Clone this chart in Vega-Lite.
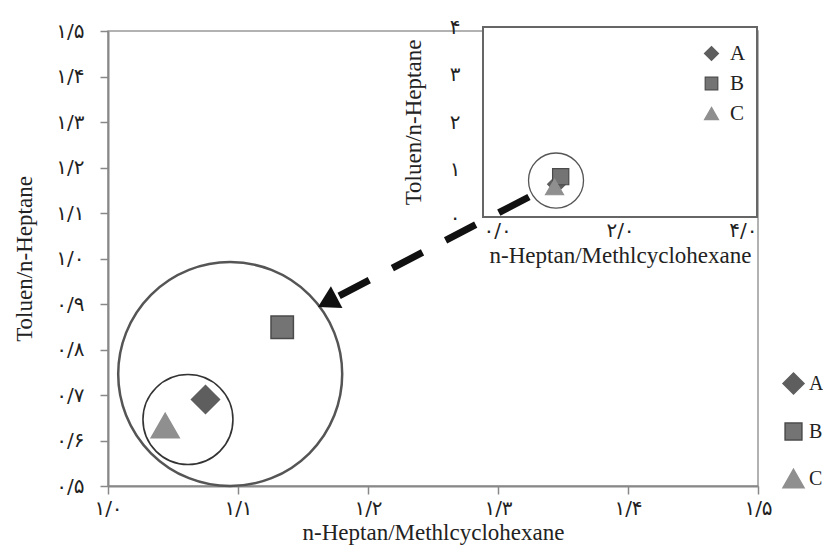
{
  "$schema": "https://vega.github.io/schema/vega-lite/v6.json",
  "width": 650,
  "height": 455,
  "autosize": {"type": "none"},
  "padding": {"left": 108, "top": 31, "right": 65, "bottom": 59},
  "background": "white",
  "config": {
    "view": {"stroke": "#999", "strokeWidth": 1.5},
    "axis": {"grid": false}
  },
  "datasets": {
    "pts": [
      {"sample": "A", "x": 1.075, "y": 0.690},
      {"sample": "B", "x": 1.134, "y": 0.849},
      {"sample": "C", "x": 1.044, "y": 0.633}
    ],
    "bigCircle": [{"x": 1.094, "y": 0.746}],
    "smallCircle": [{"x": 1.0615, "y": 0.646}],
    "insetCircle": [{"x": 1.066, "y": 0.768}],
    "frame": [{"x0": 0, "x1": 4, "y0": 0, "y1": 4}],
    "arrowLine": [
      {"x": 1.3238, "y": 1.1352, "seq": 1},
      {"x": 1.1731, "y": 0.911, "seq": 2}
    ],
    "arrowHead": [{"x": 1.1687, "y": 0.9042}]
  },
  "layer": [
    {
      "layer": [
        {
          "data": {"name": "bigCircle"},
          "mark": {"type": "point", "shape": "circle", "size": 50176, "filled": false, "stroke": "#555", "strokeWidth": 2.5, "opacity": 1},
          "encoding": {
            "x": {"field": "x", "type": "quantitative", "scale": {"domain": [1, 1.5], "nice": false, "zero": false},
              "axis": {
                "title": "n-Heptan/Methlcyclohexane",
                "values": [1, 1.1, 1.2, 1.3, 1.4, 1.5],
                "labelExpr": "substring('۰۱۲۳۴۵۶۷۸۹', floor(datum.value), floor(datum.value)+1) + '/' + substring('۰۱۲۳۴۵۶۷۸۹', round(datum.value*10)%10, round(datum.value*10)%10+1)",
                "labelFont": "DejaVu Sans", "labelFontSize": 20, "labelColor": "#222",
                "domainColor": "#888", "domainWidth": 2, "tickColor": "#888", "tickWidth": 1.5, "tickSize": 8,
                "labelPadding": 4, "labelOverlap": false, "labelFlush": false,
                "titleFont": "Liberation Serif", "titleFontSize": 23, "titleFontWeight": "normal", "titleColor": "#222", "titlePadding": 3
              }
            },
            "y": {"field": "y", "type": "quantitative", "scale": {"domain": [0.5, 1.5], "nice": false, "zero": false},
              "axis": {
                "title": "Toluen/n-Heptane",
                "values": [0.5, 0.6, 0.7, 0.8, 0.9, 1.0, 1.1, 1.2, 1.3, 1.4, 1.5],
                "labelExpr": "substring('۰۱۲۳۴۵۶۷۸۹', floor(datum.value), floor(datum.value)+1) + '/' + substring('۰۱۲۳۴۵۶۷۸۹', round(datum.value*10)%10, round(datum.value*10)%10+1)",
                "labelFont": "DejaVu Sans", "labelFontSize": 20, "labelColor": "#222",
                "domainColor": "#888", "domainWidth": 2, "tickColor": "#888", "tickWidth": 1.5, "tickSize": 8,
                "labelPadding": 16, "labelOverlap": false, "labelFlush": false,
                "titleFont": "Liberation Serif", "titleFontSize": 23, "titleFontWeight": "normal", "titleColor": "#222", "titlePadding": 19
              }
            }
          }
        },
        {
          "data": {"name": "smallCircle"},
          "mark": {"type": "point", "shape": "circle", "size": 8100, "filled": false, "stroke": "#333", "strokeWidth": 1.6, "opacity": 1},
          "encoding": {
            "x": {"field": "x", "type": "quantitative", "scale": {"domain": [1, 1.5], "nice": false, "zero": false}},
            "y": {"field": "y", "type": "quantitative", "scale": {"domain": [0.5, 1.5], "nice": false, "zero": false}}
          }
        },
        {
          "data": {"name": "pts"},
          "mark": {"type": "point", "filled": true, "size": 784, "opacity": 1, "strokeWidth": 1.5},
          "encoding": {
            "x": {"field": "x", "type": "quantitative", "scale": {"domain": [1, 1.5], "nice": false, "zero": false}},
            "y": {"field": "y", "type": "quantitative", "scale": {"domain": [0.5, 1.5], "nice": false, "zero": false}},
            "shape": {"field": "sample", "type": "nominal",
              "scale": {"domain": ["A", "B", "C"], "range": ["M-1,0L0,-1L1,0L0,1Z", "M-0.8,-0.8H0.8V0.8H-0.8Z", "M0,-0.87L1,0.87L-1,0.87Z"]},
              "legend": {"orient": "none", "legendX": 674, "legendY": 341, "title": null, "symbolSize": 441, "labelFont": "Liberation Serif", "labelFontSize": 20, "labelColor": "#222", "rowPadding": 23, "labelOffset": 4, "padding": 0, "symbolStrokeWidth": 1.5}
            },
            "fill": {"field": "sample", "type": "nominal",
              "scale": {"domain": ["A", "B", "C"], "range": ["#5e5e5e", "#747474", "#8f8f8f"]},
              "legend": {"orient": "none", "legendX": 674, "legendY": 341, "title": null, "symbolSize": 441, "labelFont": "Liberation Serif", "labelFontSize": 20, "labelColor": "#222", "rowPadding": 23, "labelOffset": 4, "padding": 0, "symbolStrokeWidth": 1.5}
            },
            "stroke": {"field": "sample", "type": "nominal",
              "scale": {"domain": ["A", "B", "C"], "range": ["#5e5e5e", "#4a4a4a", "#8f8f8f"]},
              "legend": {"orient": "none", "legendX": 674, "legendY": 341, "title": null, "symbolSize": 441, "labelFont": "Liberation Serif", "labelFontSize": 20, "labelColor": "#222", "rowPadding": 23, "labelOffset": 4, "padding": 0, "symbolStrokeWidth": 1.5}
            }
          }
        }
      ]
    },
    {
      "layer": [
        {
          "data": {"name": "frame"},
          "mark": {"type": "rect", "fill": "white", "stroke": "#666", "strokeWidth": 2},
          "encoding": {
            "x": {"field": "x0", "type": "quantitative", "scale": {"domain": [0, 4], "nice": false, "zero": false, "range": [375, 649]},
              "axis": {
                "orient": "bottom", "offset": -269,
                "title": "n-Heptan/Methlcyclohexane",
                "values": [0, 2, 4],
                "labelExpr": "substring('۰۱۲۳۴۵۶۷۸۹', floor(datum.value), floor(datum.value)+1) + '/' + substring('۰۱۲۳۴۵۶۷۸۹', round(datum.value*10)%10, round(datum.value*10)%10+1)",
                "labelFont": "DejaVu Sans", "labelFontSize": 20, "labelColor": "#222",
                "domain": false, "ticks": false, "labelPadding": 3, "labelFlush": true, "labelOverlap": false,
                "titleFont": "Liberation Serif", "titleFontSize": 23, "titleFontWeight": "normal", "titleColor": "#222", "titlePadding": 4
              }
            },
            "x2": {"field": "x1"},
            "y": {"field": "y0", "type": "quantitative", "scale": {"domain": [0, 4], "nice": false, "zero": false, "range": [186, -4]},
              "axis": {
                "orient": "left", "offset": -375,
                "title": "Toluen/n-Heptane",
                "values": [0, 1, 2, 3, 4],
                "labelExpr": "substring('۰۱۲۳۴۵۶۷۸۹', datum.value, datum.value+1)",
                "labelFont": "DejaVu Sans", "labelFontSize": 20, "labelColor": "#222",
                "domain": false, "ticks": false, "labelPadding": 23, "labelOverlap": false, "labelFlush": false,
                "titleFont": "Liberation Serif", "titleFontSize": 23, "titleFontWeight": "normal", "titleColor": "#222", "titlePadding": 24
              }
            },
            "y2": {"field": "y1"}
          }
        },
        {
          "data": {"name": "insetCircle"},
          "mark": {"type": "point", "shape": "circle", "size": 3025, "filled": false, "stroke": "#555", "strokeWidth": 1.3, "opacity": 1},
          "encoding": {
            "x": {"field": "x", "type": "quantitative", "scale": {"domain": [0, 4], "nice": false, "zero": false, "range": [375, 649]}},
            "y": {"field": "y", "type": "quantitative", "scale": {"domain": [0, 4], "nice": false, "zero": false, "range": [186, -4]}}
          }
        },
        {
          "data": {"name": "pts"},
          "mark": {"type": "point", "filled": true, "size": 324, "opacity": 1, "strokeWidth": 1.2},
          "encoding": {
            "x": {"field": "x", "type": "quantitative", "scale": {"domain": [0, 4], "nice": false, "zero": false, "range": [375, 649]}},
            "y": {"field": "y", "type": "quantitative", "scale": {"domain": [0, 4], "nice": false, "zero": false, "range": [186, -4]}},
            "shape": {"field": "sample", "type": "nominal",
              "scale": {"domain": ["A", "B", "C"], "range": ["M-1,0L0,-1L1,0L0,1Z", "M-0.9,-0.9H0.9V0.9H-0.9Z", "M0,-0.87L1,0.87L-1,0.87Z"]},
              "legend": {"orient": "none", "legendX": 593, "legendY": 12, "title": null, "symbolSize": 196, "labelFont": "Liberation Serif", "labelFontSize": 21, "labelColor": "#222", "rowPadding": 8, "labelOffset": 8, "padding": 0, "symbolStrokeWidth": 1.2}
            },
            "fill": {"field": "sample", "type": "nominal",
              "scale": {"domain": ["A", "B", "C"], "range": ["#5e5e5e", "#747474", "#8f8f8f"]},
              "legend": {"orient": "none", "legendX": 593, "legendY": 12, "title": null, "symbolSize": 196, "labelFont": "Liberation Serif", "labelFontSize": 21, "labelColor": "#222", "rowPadding": 8, "labelOffset": 8, "padding": 0, "symbolStrokeWidth": 1.2}
            },
            "stroke": {"field": "sample", "type": "nominal",
              "scale": {"domain": ["A", "B", "C"], "range": ["#5e5e5e", "#4a4a4a", "#8f8f8f"]},
              "legend": {"orient": "none", "legendX": 593, "legendY": 12, "title": null, "symbolSize": 196, "labelFont": "Liberation Serif", "labelFontSize": 21, "labelColor": "#222", "rowPadding": 8, "labelOffset": 8, "padding": 0, "symbolStrokeWidth": 1.2}
            }
          }
        }
      ]
    },
    {
      "layer": [
        {
          "data": {"name": "arrowLine"},
          "mark": {"type": "line", "color": "#111", "strokeWidth": 7, "strokeDash": [34, 26], "strokeCap": "butt"},
          "encoding": {
            "x": {"field": "x", "type": "quantitative", "scale": {"domain": [1, 1.5], "nice": false, "zero": false}, "axis": null},
            "y": {"field": "y", "type": "quantitative", "scale": {"domain": [0.5, 1.5], "nice": false, "zero": false}, "axis": null},
            "order": {"field": "seq", "type": "quantitative"}
          }
        },
        {
          "data": {"name": "arrowHead"},
          "mark": {"type": "point", "shape": "triangle-up", "size": 600, "filled": true, "color": "#111", "angle": 242, "opacity": 1},
          "encoding": {
            "x": {"field": "x", "type": "quantitative", "scale": {"domain": [1, 1.5], "nice": false, "zero": false}, "axis": null},
            "y": {"field": "y", "type": "quantitative", "scale": {"domain": [0.5, 1.5], "nice": false, "zero": false}, "axis": null}
          }
        }
      ]
    }
  ],
  "resolve": {
    "scale": {"x": "independent", "y": "independent", "shape": "independent", "fill": "independent", "stroke": "independent"},
    "axis": {"x": "independent", "y": "independent"},
    "legend": {"shape": "independent", "fill": "independent", "stroke": "independent"}
  }
}
